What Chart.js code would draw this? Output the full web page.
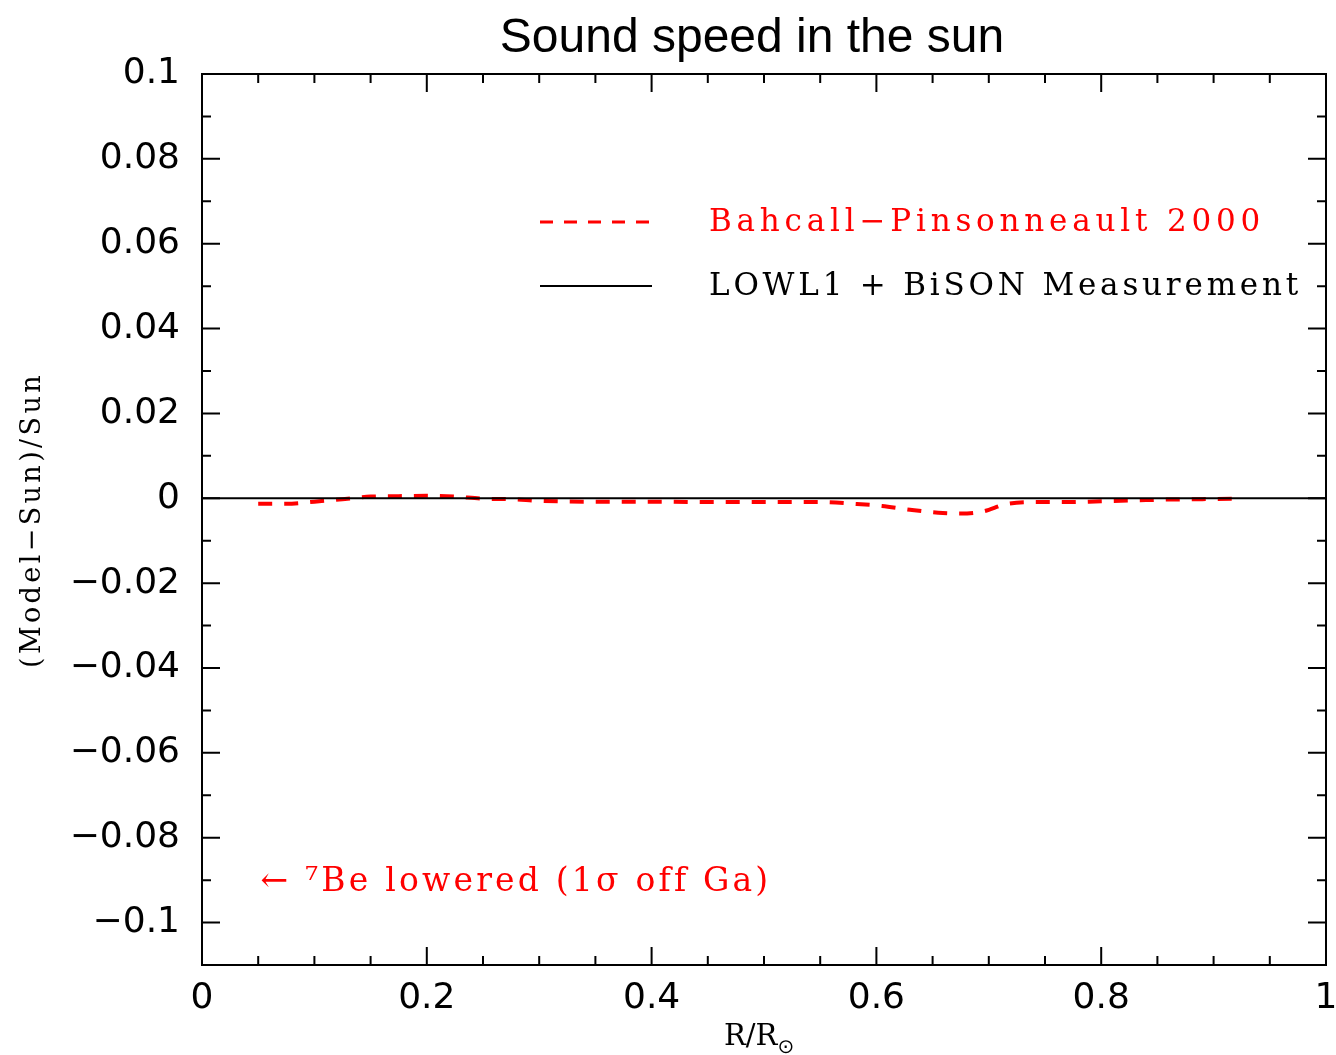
<!DOCTYPE html>
<html>
<head>
<meta charset="utf-8">
<script src="https://cdn.jsdelivr.net/npm/chart.js@4.4.1/dist/chart.umd.min.js"></script>
<style>
  html, body { margin: 0; padding: 0; background: #fff; }
  #wrap { width: 1336px; height: 1055px; }
</style>
</head>
<body>
<div id="wrap"><canvas id="soundChart" width="1336" height="1055"></canvas></div>
<script>
// Données
const modelR = [0.05, 0.075, 0.1, 0.125, 0.15, 0.175, 0.2, 0.225, 0.25, 0.275, 0.3, 0.35, 0.4, 0.45, 0.5, 0.55, 0.58, 0.605, 0.63, 0.655, 0.675, 0.695, 0.715, 0.74, 0.77, 0.8, 0.83, 0.86, 0.89, 0.925];
const modelDiff = [-0.0013, -0.0013, -0.0008, -0.0002, 0.0004, 0.0005, 0.0006, 0.0004, -0.0001, -0.0002, -0.0006, -0.0008, -0.0008, -0.0009, -0.0009, -0.0009, -0.0013, -0.0018, -0.0027, -0.0034, -0.0036, -0.0031, -0.0014, -0.0009, -0.0009, -0.0007, -0.0005, -0.0003, -0.0002, -0.0001];
const measR = [0, 1];
const measDiff = [0, 0];

const xTicks = [0, 0.2, 0.4, 0.6, 0.8, 1];
const xMinor = [0.05, 0.1, 0.15, 0.25, 0.3, 0.35, 0.45, 0.5, 0.55, 0.65, 0.7, 0.75, 0.85, 0.9, 0.95];
const yTicks = [-0.1, -0.08, -0.06, -0.04, -0.02, 0, 0.02, 0.04, 0.06, 0.08, 0.1];
const yMinor = [-0.09, -0.07, -0.05, -0.03, -0.01, 0.01, 0.03, 0.05, 0.07, 0.09];

const legendLabels = ['Bahcall\u2212Pinsonneault 2000', 'LOWL1 + BiSON Measurement'];
const noteText = '\u2190 \u2077Be lowered (1\u03c3 off Ga)';

// texte étiré à une largeur donnée
function drawSpaced(ctx, text, x, y, width) {
    ctx.letterSpacing = '0px';
    const w = ctx.measureText(text).width;
    const sp = Math.max(0, (width - w) / text.length);
    ctx.letterSpacing = sp + 'px';
    ctx.fillText(text, x, y);
    ctx.letterSpacing = '0px';
}

const decorPlugin = {
    id: 'decor',
    afterDraw(chart) {
        const ctx = chart.ctx;
        const a = chart.chartArea;
        const sx = chart.scales.x, sy = chart.scales.y;
        ctx.save();
        ctx.strokeStyle = '#000';
        ctx.lineWidth = 2;
        ctx.strokeRect(a.left, a.top, a.right - a.left, a.bottom - a.top);

        // ticks vers l'intérieur sur les quatre côtés
        ctx.beginPath();
        const tick = (v, len, isX) => {
            if (isX) {
                const p = sx.getPixelForValue(v);
                ctx.moveTo(p, a.bottom); ctx.lineTo(p, a.bottom - len);
                ctx.moveTo(p, a.top); ctx.lineTo(p, a.top + len);
            } else {
                const p = sy.getPixelForValue(v);
                ctx.moveTo(a.left, p); ctx.lineTo(a.left + len, p);
                ctx.moveTo(a.right, p); ctx.lineTo(a.right - len, p);
            }
        };
        xTicks.forEach(v => tick(v, 18, true));
        xMinor.forEach(v => tick(v, 9, true));
        yTicks.forEach(v => tick(v, 18, false));
        yMinor.forEach(v => tick(v, 9, false));
        ctx.stroke();

        // titre
        ctx.fillStyle = '#000';
        ctx.font = '48px "Liberation Sans", Arial, sans-serif';
        ctx.textAlign = 'center';
        ctx.textBaseline = 'alphabetic';
        ctx.fillText('Sound speed in the sun', 752, 52);

        // légende
        ctx.textAlign = 'left';
        ctx.textBaseline = 'middle';
        ctx.font = '31px "DejaVu Serif", serif';
        ctx.lineWidth = 3;
        ctx.strokeStyle = '#ff0000';
        ctx.setLineDash([13, 11]);
        ctx.beginPath(); ctx.moveTo(540, 222); ctx.lineTo(652, 222); ctx.stroke();
        ctx.setLineDash([]);
        ctx.strokeStyle = '#000';
        ctx.lineWidth = 2;
        ctx.beginPath(); ctx.moveTo(540, 286); ctx.lineTo(652, 286); ctx.stroke();
        ctx.fillStyle = '#ff0000';
        drawSpaced(ctx, legendLabels[0], 709, 223, 556);
        ctx.fillStyle = '#000';
        drawSpaced(ctx, legendLabels[1], 709, 287, 593);

        // annotation
        ctx.fillStyle = '#ff0000';
        ctx.font = '33px "DejaVu Serif", serif';
        drawSpaced(ctx, noteText, sx.getPixelForValue(0.052), sy.getPixelForValue(-0.0905), 510);

        // titres des axes
        ctx.fillStyle = '#000';
        ctx.font = '27px "DejaVu Serif", serif';
        ctx.save();
        ctx.translate(33, 520);
        ctx.rotate(-Math.PI / 2);
        ctx.textAlign = 'center';
        drawSpaced(ctx, '(Model\u2212Sun)/Sun', 0, 0, 296);
        ctx.restore();

        ctx.font = '29px "DejaVu Serif", serif';
        ctx.textAlign = 'left';
        ctx.textBaseline = 'alphabetic';
        const base = 'R/R';
        ctx.fillText(base, 724, 1045);
        const bw = ctx.measureText(base).width;
        ctx.font = '20px "DejaVu Sans", sans-serif';
        ctx.fillText('\u2299', 724 + bw, 1053);
        ctx.restore();
    }
};

const ctx1 = document.getElementById('soundChart').getContext('2d');
const soundChart = new Chart(ctx1, {
    type: 'scatter',
    data: {
        datasets: [{
            label: legendLabels[1],
            data: measR.map((r, i) => ({ x: r, y: measDiff[i] })),
            showLine: true,
            borderColor: '#000',
            borderWidth: 2,
            pointRadius: 0,
            order: 0
        }, {
            label: legendLabels[0],
            data: modelR.map((r, i) => ({ x: r, y: modelDiff[i] })),
            showLine: true,
            borderColor: '#ff0000',
            borderWidth: 4,
            borderDash: [14, 12],
            cubicInterpolationMode: 'monotone',
            pointRadius: 0,
            order: 1
        }]
    },
    options: {
        responsive: false,
        animation: false,
        events: [],
        layout: { autoPadding: false, padding: { top: 74, right: 10, left: 0, bottom: 0 } },
        plugins: { legend: { display: false }, title: { display: false }, tooltip: { enabled: false } },
        scales: {
            x: {
                type: 'linear',
                min: 0, max: 1,
                afterBuildTicks: s => { s.ticks = xTicks.map(v => ({ value: v })); },
                afterFit: s => { s.height = 90; s.paddingLeft = 0; s.paddingRight = 0; },
                grid: { display: false, drawTicks: false },
                border: { display: false },
                ticks: {
                    padding: 12,
                    color: '#000',
                    maxRotation: 0,
                    font: { family: '"DejaVu Sans", sans-serif', size: 36 },
                    callback: v => String(v)
                }
            },
            y: {
                type: 'linear',
                min: -0.11, max: 0.1,
                afterBuildTicks: s => { s.ticks = yTicks.map(v => ({ value: v })); },
                afterFit: s => { s.width = 202; s.paddingTop = 0; s.paddingBottom = 0; },
                grid: { display: false, drawTicks: false },
                border: { display: false },
                ticks: {
                    padding: 22,
                    color: '#000',
                    font: { family: '"DejaVu Sans", sans-serif', size: 36 },
                    callback: v => String(v).replace('-', '\u2212')
                }
            }
        }
    },
    plugins: [decorPlugin]
});
</script>
</body>
</html>
